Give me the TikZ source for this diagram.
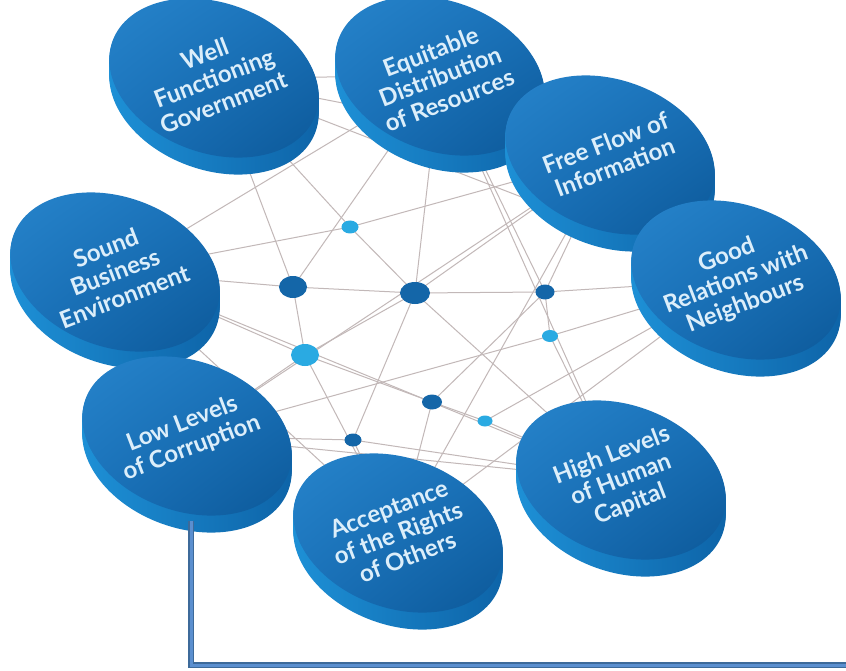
\documentclass[tikz,border=0pt]{standalone}
\usepackage{fontspec}
\newfontfamily\discfont{Lato}
\usetikzlibrary{shapes.geometric,shadings}
\definecolor{topL}{HTML}{2886CD}
\definecolor{topM}{HTML}{1A72BA}
\definecolor{topD}{HTML}{0C5898}
\definecolor{rimL}{HTML}{1E92D8}
\definecolor{rimD}{HTML}{0D62A6}
\definecolor{txtc}{HTML}{DCEEFA}
\definecolor{dotdark}{HTML}{1466A8}
\definecolor{dotcyan}{HTML}{2AAAE2}
\definecolor{netc}{HTML}{C2B8B8}
\definecolor{connin}{HTML}{5B8FCF}
\definecolor{connout}{HTML}{3D6A9A}
\newcommand\drawdisc[4]{%
  \foreach \k in {17,15,...,1}{%
    \shade[left color=rimL,right color=rimD,rotate around={-20:(#2,#3+\k)}]
      (#2,#3+\k) ellipse [x radius=108pt, y radius=75pt];}
  \shade[upper left=topL, upper right=topM, lower left=topM, lower right=topD,
    rotate around={-20:(#2,#3)}] (#2,#3) ellipse [x radius=108pt, y radius=75pt];
  \node[disctext] (#1) at (#2,#3) {#4};
}
\begin{document}
\begin{tikzpicture}[x=1pt,y=-1pt,
  disctext/.style={rotate=21, align=center, text=txtc, inner sep=1pt,
    font=\discfont\bfseries\fontsize{24}{26}\selectfont},
  netline/.style={draw=netc, line width=1pt},
  dotd/.style={ellipse, fill=dotdark, inner sep=0pt},
  dotc/.style={ellipse, fill=dotcyan, inner sep=0pt},
  conn/.style={draw=connout, double=connin, double distance=3pt, line width=1.6pt}]
\useasboundingbox (0,0) rectangle (846,671);
\fill[white] (0,0) rectangle (846,671);
% disc centres
\coordinate (cW) at (214,78);
\coordinate (cE) at (440,76);
\coordinate (cF) at (610,155);
\coordinate (cG) at (736,280);
\coordinate (cS) at (115,272);
\coordinate (cL) at (187,436);
\coordinate (cA) at (398,533);
\coordinate (cH) at (621,480);
% network
\coordinate (p1) at (350,227);
\coordinate (p2) at (293,287);
\coordinate (p3) at (415,293);
\coordinate (p4) at (545,292);
\coordinate (p5) at (550,336);
\coordinate (p6) at (305,355);
\coordinate (p7) at (432,402);
\coordinate (p8) at (485,421);
\coordinate (p9) at (353,440);
\foreach \a/\b in {cS/p2,p2/p3,p3/p4,p4/cG,cW/p1,p1/p3,p1/cS,p1/cF,cW/p2,p2/p6,
  p6/cA,p6/p3,p6/cL,p6/cS,p6/p7,p7/p8,p8/cH,p7/p4,p7/cA,p3/p9,p9/cL,p9/cH,
  p3/cH,p4/cF,p4/p5,p5/cH,p5/cG,p5/cL,p8/cG,p3/cF,cW/cE,cE/cS,cW/cF,cE/p2,
  cF/cL,cG/cA,cH/cS,cE/cH,cW/cG,cA/cF,cL/cH,cS/cA,cE/p4,p9/cA,cE/p3}
  \draw[netline] (\a) -- (\b);
\node[dotc, minimum width=17pt, minimum height=13pt] (d1) at (p1) {};
\node[dotd, minimum width=28pt, minimum height=22pt] (d2) at (p2) {};
\node[dotd, minimum width=30pt, minimum height=22pt] (d3) at (p3) {};
\node[dotd, minimum width=19pt, minimum height=15pt] (d4) at (p4) {};
\node[dotc, minimum width=16pt, minimum height=12pt] (d5) at (p5) {};
\node[dotc, minimum width=28pt, minimum height=22pt] (d6) at (p6) {};
\node[dotd, minimum width=20pt, minimum height=15pt] (d7) at (p7) {};
\node[dotc, minimum width=15pt, minimum height=11pt] (d8) at (p8) {};
\node[dotd, minimum width=17pt, minimum height=13pt] (d9) at (p9) {};
% discs
\drawdisc{W}{214}{78}{Well\\Functioning\\Government}
\drawdisc{E}{440}{76}{Equitable\\Distribution\\of Resources}
\drawdisc{F}{610}{155}{Free Flow of\\Information}
\drawdisc{G}{736}{280}{Good\\Relations with\\Neighbours}
\drawdisc{S}{115}{272}{Sound\\Business\\Environment}
\drawdisc{L}{187}{436}{Low Levels\\of Corruption}
\drawdisc{H}{621}{480}{High Levels\\of Human\\Capital}
\drawdisc{A}{398}{533}{Acceptance\\of the Rights\\of Others}
% connector
\coordinate (cs) at (191,521);
\coordinate (ce) at (850,665);
\draw[conn] (cs) |- (ce);
\end{tikzpicture}
\end{document}
